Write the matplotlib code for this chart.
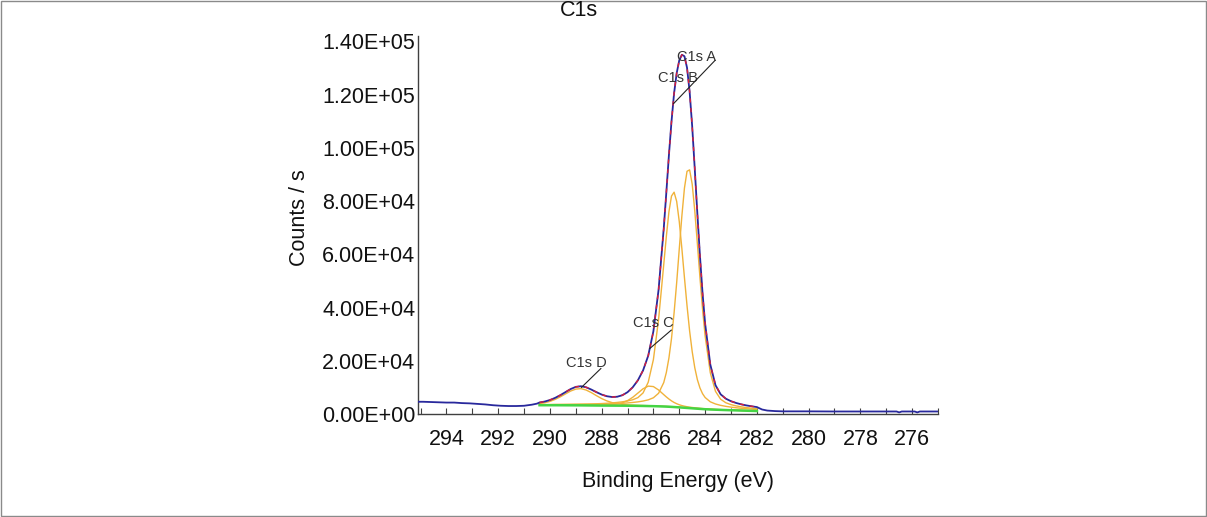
import matplotlib
matplotlib.use("Agg")
import matplotlib.pyplot as plt
from matplotlib.ticker import MultipleLocator, FuncFormatter
from matplotlib.patches import Rectangle
import numpy as np

plt.rcParams['font.family'] = ['Liberation Sans', 'DejaVu Sans']

# fit region grid (binding energy, eV)
fit_x = [290.4, 290.2, 290.0, 289.8, 289.6, 289.4, 289.2, 289.0, 288.8, 288.6,
         288.4, 288.2, 288.0, 287.8, 287.6, 287.4, 287.2, 287.0, 286.8, 286.6,
         286.4, 286.2, 286.0, 285.8, 285.6,
         285.5, 285.4, 285.3, 285.2, 285.1, 285.0, 284.9, 284.8, 284.7, 284.6,
         284.5, 284.4, 284.3, 284.2, 284.1,
         284.0, 283.8, 283.6, 283.4, 283.2, 283.0, 282.8, 282.6, 282.4, 282.2, 282.0]

# values in thousands of counts / s
background_k = [3.30, 3.30, 3.30, 3.30, 3.29, 3.28, 3.27, 3.26, 3.25, 3.23,
                3.21, 3.19, 3.17, 3.16, 3.15, 3.14, 3.13, 3.11, 3.09, 3.06,
                3.03, 2.99, 2.95, 2.89, 2.82,
                2.78, 2.73, 2.68, 2.62, 2.56, 2.49, 2.42, 2.35, 2.28, 2.21,
                2.14, 2.07, 2.00, 1.93, 1.86,
                1.80, 1.70, 1.62, 1.55, 1.48, 1.42, 1.36, 1.30, 1.24, 1.18, 1.12]

c1s_a_k = [0.18, 0.19, 0.21, 0.23, 0.25, 0.27, 0.29, 0.32, 0.35, 0.38,
           0.42, 0.47, 0.53, 0.59, 0.68, 0.77, 0.90, 1.05, 1.25, 1.50,
           1.84, 2.33, 3.15, 4.9, 9.0,
           12.8, 18.3, 25.7, 35.4, 46.8, 59.5, 71.9, 82.5, 88.9, 89.5,
           84.2, 74.2, 62.0, 49.3, 37.5,
           27.5, 13.8, 6.9, 4.0, 2.75, 2.1, 1.69, 1.39, 1.16, 0.99, 0.85]

c1s_b_k = [0.22, 0.24, 0.26, 0.29, 0.31, 0.34, 0.38, 0.42, 0.46, 0.52,
           0.58, 0.66, 0.76, 0.88, 1.02, 1.21, 1.45, 1.79, 2.26, 3.10,
           4.88, 8.95, 17.5, 32.6, 53.3,
           63.9, 73.2, 79.2, 80.7, 77.3, 69.8, 59.8, 48.9, 38.4, 29.0,
           21.3, 15.3, 10.9, 7.85, 5.78,
           4.40, 2.88, 2.15, 1.70, 1.40, 1.17, 0.99, 0.85, 0.74, 0.65, 0.57]

c1s_c_k = [0.044, 0.048, 0.053, 0.059, 0.066, 0.074, 0.083, 0.095, 0.109, 0.126,
           0.148, 0.176, 0.217, 0.281, 0.40, 0.64, 1.10, 1.92, 3.18, 4.80,
           6.45, 7.49, 7.36, 6.14, 4.46,
           3.64, 2.90, 2.25, 1.72, 1.31, 0.98, 0.75, 0.58, 0.456, 0.37,
           0.31, 0.27, 0.23, 0.205, 0.185,
           0.169, 0.143, 0.122, 0.106, 0.092, 0.081, 0.072, 0.064, 0.058, 0.052, 0.047]

c1s_d_k = [0.59, 0.91, 1.43, 2.18, 3.15, 4.26, 5.35, 6.10, 6.28, 5.78,
           4.83, 3.70, 2.63, 1.77, 1.14, 0.73, 0.48, 0.33, 0.25, 0.195,
           0.164, 0.140, 0.122, 0.108, 0.096,
           0.090, 0.085, 0.081, 0.077, 0.073, 0.069, 0.066, 0.063, 0.060, 0.057,
           0.055, 0.052, 0.050, 0.048, 0.046,
           0.044, 0.040, 0.038, 0.035, 0.033, 0.031, 0.029, 0.027, 0.025, 0.024, 0.023]

# measured spectrum outside the fit region
left_x = [295.1, 294.9, 294.6, 294.3, 294.0, 293.7, 293.4, 293.1, 292.8, 292.5,
          292.2, 291.9, 291.6, 291.3, 291.0, 290.7, 290.5]
left_k = [4.6, 4.6, 4.5, 4.4, 4.3, 4.3, 4.1, 4.0, 3.8, 3.6,
          3.3, 3.1, 3.0, 3.0, 3.1, 3.5, 3.9]
right_x = [281.8, 281.6, 281.3, 281.0, 280.0, 279.0, 278.0, 277.0, 276.6, 276.5,
           276.4, 275.9, 275.8, 275.7, 275.0]
right_k = [1.7, 1.3, 1.1, 1.0, 1.0, 0.95, 0.95, 0.95, 0.95, 0.6,
           0.95, 0.95, 0.6, 0.95, 0.95]

labels = ["C1s A", "C1s B", "C1s C", "C1s D"]
label_pos = [(284.33, 134.2e3), (285.06, 126.4e3), (285.99, 34.1e3), (288.61, 19.1e3)]
leaders = [((283.63, 132.7e3), (285.22, 116.6e3)),
           ((285.31, 31.5e3), (286.14, 24.6e3)),
           ((288.03, 17.1e3), (288.78, 10.0e3))]

fx = np.array(fit_x)
bg = np.array(background_k) * 1e3
comps = [np.array(c) * 1e3 for c in (c1s_a_k, c1s_b_k, c1s_c_k, c1s_d_k)]
envelope = bg + sum(comps)

fig = plt.figure(figsize=(12.07, 5.17), dpi=100)
ax = fig.add_axes([0.3463, 0.1992, 0.4308, 0.7312])

orange = '#f0b23a'
for c in comps:
    ax.plot(fx, bg + c, color=orange, lw=1.0, zorder=2)
ax.plot(fx, bg, color='#44d444', lw=1.8, zorder=3)

spec_x = np.concatenate([left_x, fx, right_x])
spec_y = np.concatenate([np.array(left_k) * 1e3, envelope, np.array(right_k) * 1e3])
ax.plot(spec_x, spec_y, color='#28289c', lw=1.3, zorder=4)
ax.plot(fx, envelope, color='#d8203c', lw=1.0, dashes=(3, 4), zorder=5)

for txt, (x, y) in zip(labels, label_pos):
    ax.text(x, y, txt, ha='center', va='center', fontsize=10.5, color='#333333', zorder=6)
for (x0, y0), (x1, y1) in leaders:
    ax.plot([x0, x1], [y0, y1], color='#222222', lw=0.8, zorder=6)

ax.set_xlim(295.1, 275.0)
ax.set_ylim(0, 1.42e5)
ax.xaxis.set_major_locator(MultipleLocator(2))
ax.xaxis.set_minor_locator(MultipleLocator(1))
ax.yaxis.set_major_locator(MultipleLocator(2e4))
ax.yaxis.set_major_formatter(FuncFormatter(lambda v, p: f"{v:.2E}"))

ax.tick_params(axis='x', which='both', direction='in', length=4, width=0.8,
               colors='#404040', labelcolor='#111111', labelsize=15.5, pad=11)
ax.tick_params(axis='y', length=0, labelsize=15.5, labelcolor='#111111', pad=2)

for s in ('top', 'right'):
    ax.spines[s].set_visible(False)
for s in ('left', 'bottom'):
    ax.spines[s].set_color('#404040')
    ax.spines[s].set_linewidth(1.0)

ax.set_xlabel("Binding Energy (eV)", fontsize=15.5, color='#111111')
ax.xaxis.set_label_coords(0.5, -0.15)
ax.set_ylabel("Counts / s", fontsize=15.5, color='#111111')
ax.yaxis.set_label_coords(-0.207, 0.52)

fig.text(579 / 1207, 1 - 10 / 517, "C1s", ha='center', va='center', fontsize=15.5, color='#111111')

fig.patches.append(Rectangle((0.0008, 0.001), 0.998, 0.997, transform=fig.transFigure,
                             fill=False, edgecolor='#8a8a8a', lw=1.0))

fig.savefig("out.png", dpi=100)
